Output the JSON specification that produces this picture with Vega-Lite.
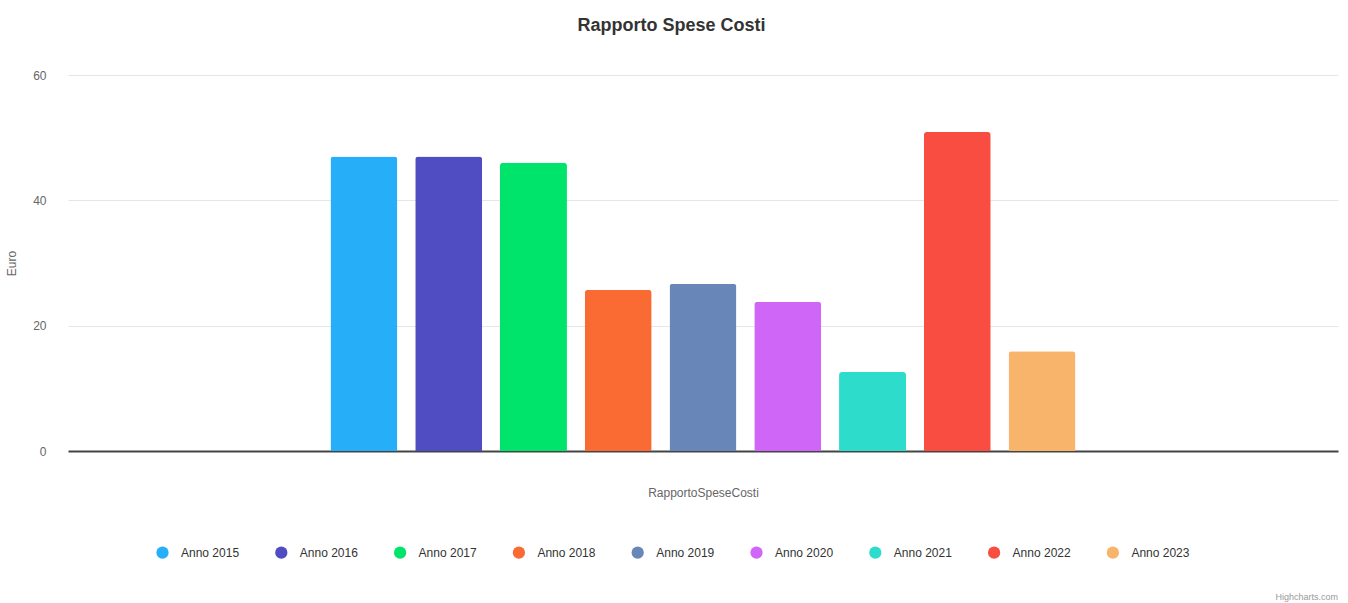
{
  "$schema": "https://vega.github.io/schema/vega-lite/v6.json",
  "width": 1270,
  "height": 376,
  "padding": {"left": 5, "top": 16, "right": 10, "bottom": 4},
  "background": "white",
  "config": {
    "view": {"stroke": null},
    "font": "Liberation Sans"
  },
  "title": {
    "text": "Highcharts.com",
    "orient": "bottom",
    "anchor": "end",
    "frame": "group",
    "fontSize": 9,
    "fontWeight": "normal",
    "color": "#999999",
    "font": "Liberation Sans",
    "offset": 34
  },
  "data": {
    "values": [
      {"categoria": "RapportoSpeseCosti", "serie": "Anno 2015", "valore": 47.0},
      {"categoria": "RapportoSpeseCosti", "serie": "Anno 2016", "valore": 47.0},
      {"categoria": "RapportoSpeseCosti", "serie": "Anno 2017", "valore": 46.0},
      {"categoria": "RapportoSpeseCosti", "serie": "Anno 2018", "valore": 25.7},
      {"categoria": "RapportoSpeseCosti", "serie": "Anno 2019", "valore": 26.7},
      {"categoria": "RapportoSpeseCosti", "serie": "Anno 2020", "valore": 23.8},
      {"categoria": "RapportoSpeseCosti", "serie": "Anno 2021", "valore": 12.6},
      {"categoria": "RapportoSpeseCosti", "serie": "Anno 2022", "valore": 50.9},
      {"categoria": "RapportoSpeseCosti", "serie": "Anno 2023", "valore": 15.9}
    ]
  },
  "layer": [
    {
      "mark": {"type": "bar", "cornerRadiusTopLeft": 3, "cornerRadiusTopRight": 3},
      "encoding": {
        "x": {
          "field": "categoria",
          "type": "nominal",
          "scale": {"paddingInner": 0, "paddingOuter": 0.3333},
          "axis": {
            "title": "RapportoSpeseCosti",
            "labels": false,
            "ticks": false,
            "domain": true,
            "domainColor": "#444444",
            "domainWidth": 2,
            "titleFont": "Liberation Sans",
            "titleFontSize": 12,
            "titleFontWeight": "normal",
            "titleColor": "#666666",
            "titlePadding": 36
          }
        },
        "xOffset": {
          "field": "serie",
          "type": "nominal",
          "scale": {"paddingInner": 0.21, "paddingOuter": 0.1}
        },
        "y": {
          "field": "valore",
          "type": "quantitative",
          "scale": {"domain": [0, 60], "nice": false},
          "axis": {
            "title": "Euro",
            "values": [0, 20, 40, 60],
            "grid": true,
            "gridColor": "#e6e6e6",
            "gridWidth": 1,
            "domain": false,
            "ticks": false,
            "labelPadding": 22,
            "labelFont": "Liberation Sans",
            "labelFontSize": 12,
            "labelColor": "#666666",
            "titleFont": "Liberation Sans",
            "titleFontSize": 12,
            "titleFontWeight": "normal",
            "titleColor": "#666666",
            "titlePadding": 14
          }
        },
        "color": {
          "field": "serie",
          "type": "nominal",
          "scale": {
            "domain": ["Anno 2015", "Anno 2016", "Anno 2017", "Anno 2018", "Anno 2019", "Anno 2020", "Anno 2021", "Anno 2022", "Anno 2023"],
            "range": ["#27aef9", "#504cc2", "#01e46c", "#fa6a33", "#6887b8", "#d066f7", "#2edccb", "#f94d42", "#f8b46a"]
          },
          "legend": {
            "title": null,
            "orient": "none",
            "legendX": 88,
            "legendY": 471,
            "direction": "horizontal",
            "columns": 9,
            "symbolType": "circle",
            "symbolSize": 150,
            "symbolStrokeWidth": 0,
            "labelFont": "Liberation Sans",
            "labelFontSize": 12,
            "labelColor": "#333333",
            "labelOffset": 12,
            "columnPadding": 34.8
          }
        }
      }
    },
    {
      "mark": {"type": "bar", "opacity": 0},
      "encoding": {
        "x": {
          "field": "categoria",
          "type": "nominal",
          "axis": {
            "orient": "top",
            "title": "Rapporto Spese Costi",
            "labels": false,
            "ticks": false,
            "domain": false,
            "titleFont": "Liberation Sans",
            "titleFontSize": 18,
            "titleFontWeight": "bold",
            "titleColor": "#333333",
            "titleX": 603,
            "titlePadding": 41
          }
        },
        "y": {"field": "valore", "type": "quantitative", "stack": null}
      }
    }
  ],
  "resolve": {"axis": {"x": "independent"}}
}
